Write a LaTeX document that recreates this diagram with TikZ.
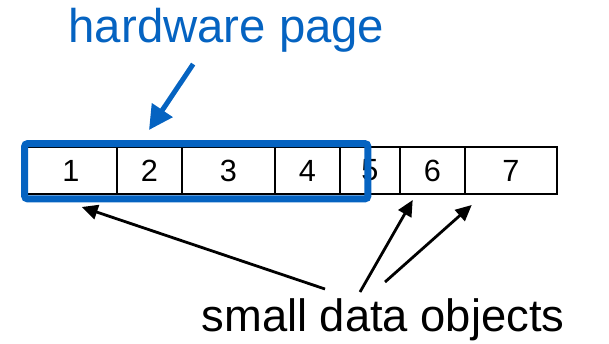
\documentclass[tikz,border=0pt]{standalone}
\usepackage{fontspec}
\setmainfont{Liberation Sans}
\usepackage{tikz}
\usetikzlibrary{arrows.meta,positioning}
\definecolor{PageBlue}{HTML}{0563C1}

\begin{document}
\begin{tikzpicture}[x=0.75pt, y=-0.75pt,
  slot/.style={draw, line width=1.5pt, minimum height=35.25pt, inner sep=0pt, outer sep=0pt,
    font=\fontsize{23}{26}\selectfont},
  pagebox/.style={draw=PageBlue, line width=5.25pt, rounded corners=2.5pt, minimum width=257.6pt,
    minimum height=41.6pt, inner sep=0pt},
  label/.style={inner sep=0pt, anchor=base},
  pointer/.style={-{Triangle[length=12pt, width=11pt]}, line width=2.1pt}]
  \useasboundingbox (0,0) rectangle (609,343);
  % row of objects
  \node[slot, minimum width=69pt] (c1) at (71,170.5) {1};
  \node[slot, minimum width=48.75pt, right=0pt of c1] (c2) {2};
  \node[slot, minimum width=69.75pt, right=0pt of c2] (c3) {3};
  \node[slot, minimum width=48.75pt, right=0pt of c3] (c4) {4};
  \node[slot, minimum width=45pt, right=0pt of c4] (c5) {5};
  \node[slot, minimum width=48.75pt, right=0pt of c5] (c6) {6};
  \node[slot, minimum width=69pt, right=0pt of c6] (c7) {7};
  % page frame
  \node[pagebox] (page) at (196.25,171.25) {};
  % labels
  \node[label, text=PageBlue, font=\fontsize{35.5}{40}\selectfont] (hw) at (226.5,42) {hardware page};
  \node[label, font=\fontsize{34}{40}\selectfont] (objs) at (383,331.5) {small data objects};
  \coordinate (hwtip) at (149,130);
  \draw[-{Triangle[length=18pt, width=18pt]}, PageBlue, line width=3.75pt]
    ([xshift=-25pt, yshift=-9pt]hw.south) -- (hwtip);
  \coordinate (o1) at (325,289);
  \coordinate (o2) at (360,292);
  \coordinate (o3) at (385,282);
  \coordinate (t1) at (81.7,207);
  \coordinate (t2) at (412.7,200);
  \coordinate (t3) at (471.7,205);
  \draw[pointer] (o1) -- (t1);
  \draw[pointer] (o2) -- (t2);
  \draw[pointer] (o3) -- (t3);
\end{tikzpicture}
\end{document}
